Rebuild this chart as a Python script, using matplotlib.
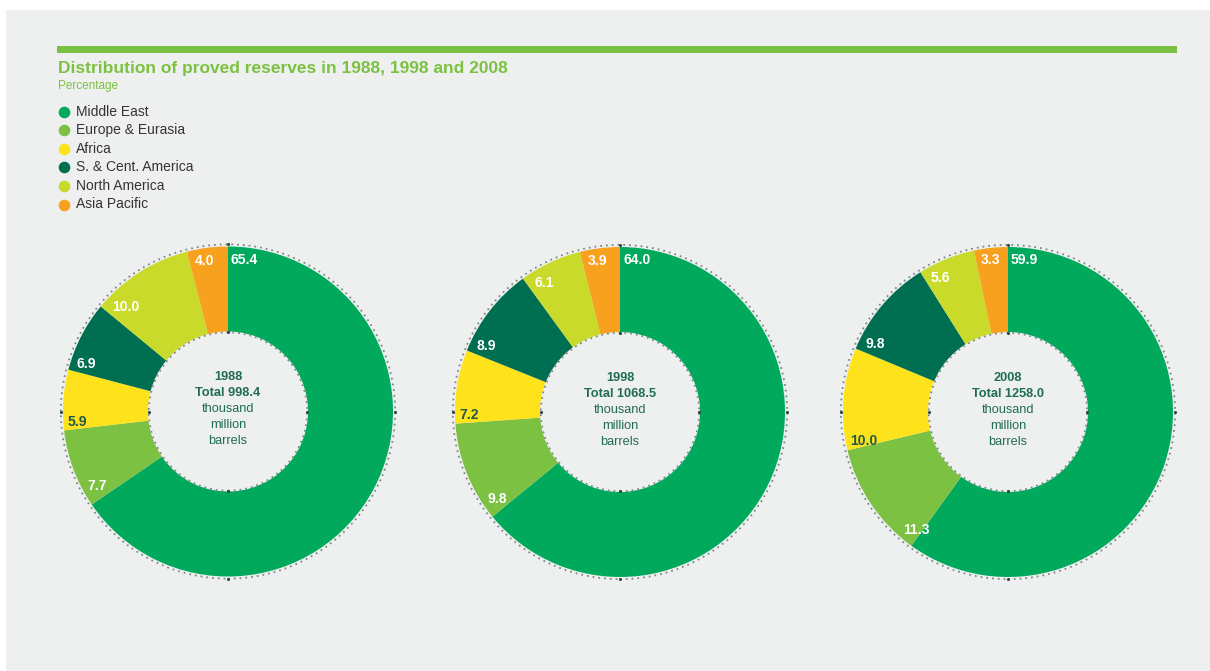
import numpy as np
import matplotlib
matplotlib.use("Agg")
import matplotlib.pyplot as plt
from matplotlib.patches import Circle, Rectangle

plt.rcParams["font.family"] = ["Liberation Sans", "DejaVu Sans"]

# ---- data -------------------------------------------------------------
regions = ["Middle East", "Europe & Eurasia", "Africa",
           "S. & Cent. America", "North America", "Asia Pacific"]
colors = ["#00a95c", "#7cc142", "#fde21c", "#006e50", "#c9da2a", "#f7a11e"]
label_colors = ["white", "white", "#1e5a45", "white", "white", "white"]

years = ["1988", "1998", "2008"]
totals = [998.4, 1068.5, 1258.0]
share_1988 = [65.4, 7.7, 5.9, 6.9, 10.0, 4.0]
share_1998 = [64.0, 9.8, 7.2, 8.9, 6.1, 3.9]
share_2008 = [59.9, 11.3, 10.0, 9.8, 5.6, 3.3]
shares = [share_1988, share_1998, share_2008]

title = "Distribution of proved reserves in 1988, 1998 and 2008"
subtitle = "Percentage"

# ---- layout -----------------------------------------------------------
W, H = 1210, 671
R_PX = 165.0          # outer radius of each ring in pixels
INNER = 0.485         # inner radius relative to outer
centers = [(228, 411.5), (620, 412), (1008, 412)]
GREEN = "#7cc142"
TEXT_DARK = "#1f6b57"

fig = plt.figure(figsize=(W / 100, H / 100), dpi=100)
fig.patch.set_facecolor("white")

bg = fig.add_axes([0, 0, 1, 1])
bg.set_xlim(0, W)
bg.set_ylim(H, 0)
bg.axis("off")
bg.add_patch(Rectangle((6, 10), W - 6, H - 10, fc="#eef0ef", ec="none"))
bg.add_patch(Rectangle((57, 46), 1120, 7, fc="#78c043", ec="none"))
bg.text(58, 73, title, fontsize=12.5, fontweight="bold", color=GREEN,
        va="baseline", ha="left")
bg.text(58, 89, subtitle, fontsize=8.5, color=GREEN, va="baseline", ha="left")

for i, (name, col) in enumerate(zip(regions, colors)):
    y = 111.5 + 18.6 * i
    bg.scatter([64], [y], s=70, color=col, linewidths=0)
    bg.text(76, y, name, fontsize=10, color="#333333", va="center", ha="left")


def place_labels(ax, values):
    px = 1.0 / R_PX
    h = 11 * px
    rho = 0.975
    total = sum(values)
    starts = np.concatenate([[0.0], np.cumsum(values)[:-1]]) / total * 360.0
    for v, a, c in zip(values, starts, label_colors):
        txt = f"{v:.1f}"
        if a == 0:
            ax.text(3 * px, 1 - 6 * px, txt, ha="left", va="top",
                    fontsize=10, fontweight="bold", color=c)
            continue
        d = 5.0 if a < 250 else 1.5
        t = np.radians(a + d)
        ux, uy = np.sin(t), np.cos(t)
        if uy > 0:
            r = -h * uy + np.sqrt((h * uy) ** 2 - h * h + rho ** 2)
        else:
            r = rho
        ax.text(r * ux, r * uy, txt, ha="left", va="baseline",
                fontsize=10, fontweight="bold", color=c)


half = 1.1 * R_PX
for (cx, cy), values, year, tot in zip(centers, shares, years, totals):
    ax = fig.add_axes([(cx - half) / W, (H - cy - half) / H,
                       2 * half / W, 2 * half / H])
    ax.patch.set_alpha(0)
    ax.pie(values, colors=colors, startangle=90, counterclock=False,
           radius=1.0, wedgeprops=dict(width=1 - INNER, linewidth=0))
    ax.set_xlim(-1.1, 1.1)
    ax.set_ylim(-1.1, 1.1)
    ax.set_aspect("equal")
    ax.axis("off")

    # dotted guide circles with darker quarter marks
    for rr in (1.013, INNER - 0.005):
        ax.add_patch(Circle((0, 0), rr, fill=False, linestyle=(0, (1.0, 2.2)),
                            linewidth=1.3, edgecolor="#7d8985", zorder=4))
        ax.scatter([0, 0, rr, -rr], [rr, -rr, 0, 0], s=5, color="#2e4a40",
                   linewidths=0, zorder=5)

    place_labels(ax, values)

    lines = [(year, "bold"), (f"Total {tot:.1f}", "bold"),
             ("thousand", "normal"), ("million", "normal"), ("barrels", "normal")]
    for k, (s, wgt) in enumerate(lines):
        off = (-2 + 16 * (k - 2)) / R_PX
        ax.text(0, -off, s, ha="center", va="center", fontsize=9.2,
                fontweight=wgt, color=TEXT_DARK)

fig.savefig("out.png", dpi=100, facecolor=fig.get_facecolor())
